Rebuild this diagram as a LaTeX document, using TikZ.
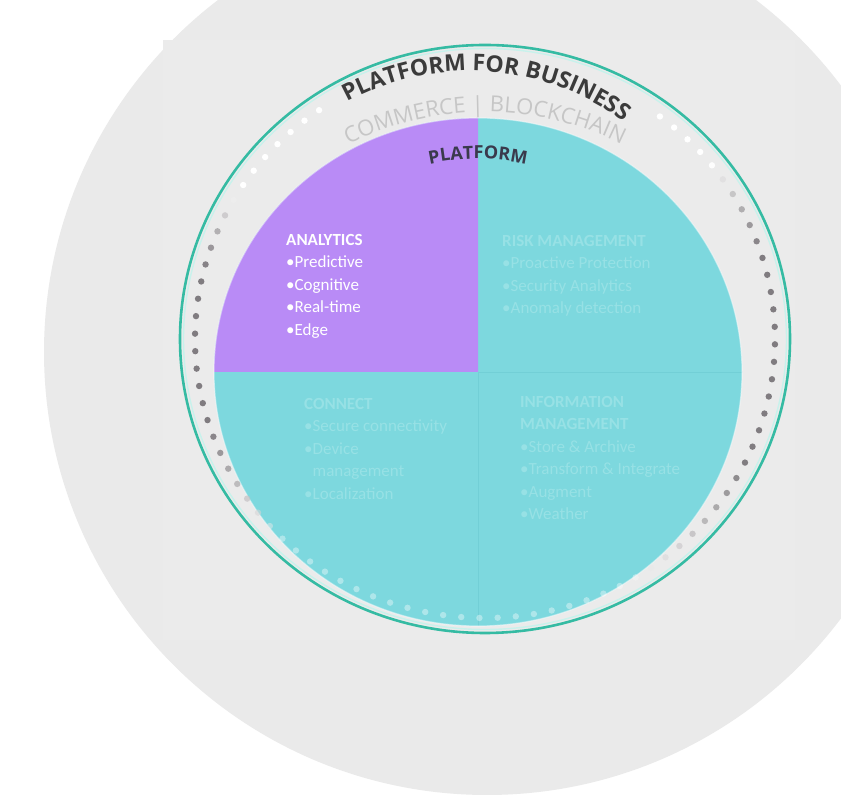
\documentclass[tikz,border=0pt]{standalone}
\usepackage{fontspec}
\usetikzlibrary{decorations.text}
\newfontfamily\opensans{Open Sans}
\newfontfamily\carlito{Carlito}
\definecolor{bggrey}{HTML}{EAEAEA}
\definecolor{panelgrey}{HTML}{EBEBEB}
\definecolor{ringteal}{HTML}{35BBA3}
\definecolor{ringhalo}{HTML}{C8F2EC}
\definecolor{diskteal}{HTML}{7DD8DE}
\definecolor{diskpurple}{HTML}{B98BF6}
\definecolor{dividerteal}{HTML}{72CFD6}
\definecolor{titlegrey}{HTML}{3B3B3B}
\definecolor{subgrey}{HTML}{C6C6C6}
\definecolor{platcol}{HTML}{3A3A4C}
\definecolor{dotgrey}{HTML}{807C80}
\definecolor{fainttext}{HTML}{97E1E5}
\begin{document}
\begin{tikzpicture}[x=1pt,y=1pt,
  quadtext/.style={anchor=north west, inner sep=0pt, align=left,
    font=\carlito\fontsize{17}{22.5}\selectfont},
  divider/.style={draw=dividerteal, line width=0.8}]
\useasboundingbox (0,0) rectangle (841,800);
\fill[white] (0,0) rectangle (841,800);
% large grey backdrop disc and the panel laid over it
\begin{scope}
  \clip (0,0) rectangle (841,800);
  \fill[bggrey] (487,448) circle[radius=443];
\end{scope}
\fill[panelgrey] (163,160) rectangle (795,760);
% outer teal ring
\draw[ringteal, line width=2.6] (485,461) ellipse[x radius=305, y radius=294];
\draw[ringhalo, line width=1.4] (485,461) ellipse[x radius=301.5, y radius=290.5];
% four-part platform disc
\fill[diskteal] (478,428) ellipse[x radius=264, y radius=254];
\fill[diskpurple] (478,428) -- (214,428)
  arc[start angle=180, end angle=90, x radius=264, y radius=254] -- cycle;
\draw[divider] (478,428) -- (742,428);
\draw[divider] (478,428) -- (478,174);
\draw[white, opacity=0.45, line width=1.2] (478,428) ellipse[x radius=264, y radius=254];
% dotted ring, grey at the sides, white at the top, pale at the bottom
\foreach \k in {0,...,99}{
  \pgfmathsetmacro\ang{2.5+3.6*\k}
  \pgfmathtruncatemacro\show{(\ang>54 && \ang<124) ? 0 : 1}
  \ifnum\show=1
    \pgfmathsetmacro\ca{cos(\ang)}
    \pgfmathsetmacro\sa{sin(\ang)}
    \pgfmathsetmacro\aa{abs(\ca)}
    \pgfmathsetmacro\f{(\sa>=0) ? ((\ca>=0) ? min(1,max(0,(\aa-0.78)/0.17)) : min(1,max(0,(\aa-0.85)/0.12)))
                                : ((\ca<0) ? min(1,max(0,(\aa-0.70)/0.25)) : min(1,max(0,(\aa-0.50)/0.40)))}
    \pgfmathsetmacro\fp{100*\f}
    \pgfmathsetmacro\op{(\sa>=0) ? 1 : 0.38+0.62*\f}
    \fill[dotgrey!\fp!white, opacity=\op] ({485+290*\ca},{461+279*\sa}) circle[radius=3.2];
  \fi
}
% curved headings
\path[decorate, decoration={text along path, text align=center, text color=titlegrey,
  text={|\opensans\bfseries\fontsize{23}{23}\selectfont|PLATFORM FOR BUSINESS}}]
  (470,470) ++(126:259) arc[start angle=126, end angle=46, radius=259];
\path[decorate, decoration={text along path, text align=center, text color=subgrey,
  text={|\opensans\fontsize{22}{22}\selectfont|COMMERCE {\textbar} BLOCKCHAIN}}]
  (485,383) ++(125:305) arc[start angle=125, end angle=55, radius=305];
\path[decorate, decoration={text along path, text align=center, text color=platcol,
  text={|\opensans\bfseries\fontsize{18}{18}\selectfont|PLATFORM}}]
  (478,411) ++(104:230) arc[start angle=104, end angle=76, radius=230];
% quadrant contents
\node[quadtext, text=white] (analytics) at (286,566)
  {\textbf{ANALYTICS}\\•Predictive\\•Cognitive\\•Real-time\\•Edge};
\node[quadtext, text=fainttext] (risk) at (502,565)
  {\textbf{RISK MANAGEMENT}\\•Proactive Protection\\•Security Analytics\\•Anomaly detection};
\node[quadtext, text=fainttext] (connect) at (304,402)
  {\textbf{CONNECT}\\•Secure connectivity\\•Device\\\phantom{•}management\\•Localization};
\node[quadtext, text=fainttext] (info) at (520,404)
  {\textbf{INFORMATION}\\\textbf{MANAGEMENT}\\•Store \& Archive\\•Transform \& Integrate\\•Augment\\•Weather};
\end{tikzpicture}
\end{document}
